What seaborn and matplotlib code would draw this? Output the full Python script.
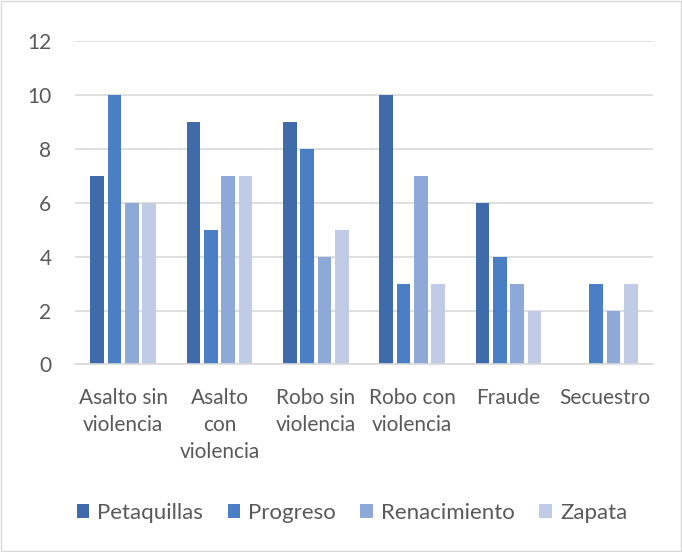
import matplotlib
matplotlib.use("Agg")
import matplotlib.pyplot as plt
import seaborn as sns
import pandas as pd
from matplotlib.patches import Rectangle

categories = ["Asalto sin\nviolencia", "Asalto\ncon\nviolencia", "Robo sin\nviolencia",
              "Robo con\nviolencia", "Fraude", "Secuestro"]
series = ["Petaquillas", "Progreso", "Renacimiento", "Zapata"]
petaquillas = [7, 9, 9, 10, 6, 0]
progreso = [10, 5, 8, 3, 4, 3]
renacimiento = [6, 7, 4, 7, 3, 2]
zapata = [6, 7, 5, 3, 2, 3]
yticks = [0, 2, 4, 6, 8, 10, 12]

colors = ["#3F6BAA", "#4A7FC5", "#8EA8D8", "#C0CBE6"]

rows = []
for name, vals in zip(series, [petaquillas, progreso, renacimiento, zapata]):
    for c, v in zip(categories, vals):
        rows.append({"cat": c, "serie": name, "val": v})
df = pd.DataFrame(rows)

sns.set_style("white")
plt.rcParams["font.family"] = ["Lato", "DejaVu Sans"]

fig = plt.figure(figsize=(6.82, 5.52), dpi=100)
ax = fig.add_axes([0.110, 0.3397, 0.8475, 0.586])

sns.barplot(data=df, x="cat", y="val", hue="serie", order=categories, hue_order=series,
            palette=colors, width=0.72, gap=0.22, ax=ax, saturation=1, linewidth=0,
            legend=True)

ax.set_ylim(0, 12)
ax.set_yticks(yticks)
ax.set_xlim(-0.5, len(categories) - 0.5)
ax.yaxis.grid(True, color="#D9D9D9", linewidth=1.2)
ax.set_axisbelow(True)
for s in ["top", "right", "left"]:
    ax.spines[s].set_visible(False)
ax.spines["bottom"].set_color("#D9D9D9")
ax.spines["bottom"].set_linewidth(1.2)
ax.set_xlabel("")
ax.set_ylabel("")
ax.tick_params(axis="both", length=0, labelsize=15, colors="#595959")
ax.tick_params(axis="y", pad=17)
ax.tick_params(axis="x", pad=17)
for lbl in ax.get_xticklabels():
    lbl.set_linespacing(1.45)

ax.legend_.remove()
handles, labels = ax.get_legend_handles_labels()
fig.legend(handles, labels, loc="center", bbox_to_anchor=(0.516, 0.071), ncol=4, frameon=False,
           fontsize=16, labelcolor="#595959", handlelength=0.58, handleheight=0.58,
           handletextpad=0.35, columnspacing=1.1)

fig.patches.append(Rectangle((0.002, 0.002), 0.996, 0.996, transform=fig.transFigure,
                             fill=False, edgecolor="#D9D9D9", linewidth=1))

fig.savefig("out.png", dpi=100)
